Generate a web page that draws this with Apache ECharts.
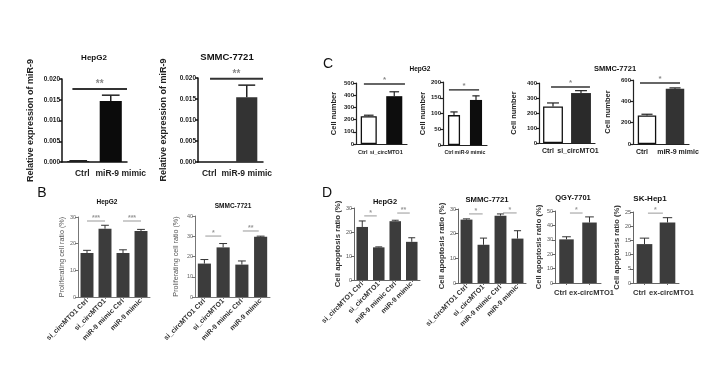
<!DOCTYPE html>
<html><head><meta charset="utf-8">
<script src="https://cdn.jsdelivr.net/npm/echarts@6/dist/echarts.min.js"></script>
<style>html,body{margin:0;padding:0;background:#fff}#c{width:725px;height:382px}</style>
</head><body><div id="c"></div>
<script>
// ---------------- data ----------------
const catsA   = ['Ctrl', 'miR-9 mimic'];
const catsSi  = ['Ctrl', 'si_circMTO1'];
const catsMim = ['Ctrl', 'miR-9 mimic'];
const catsBD  = ['si_circMTO1 Ctrl', 'si_circMTO1', 'miR-9 mimic Ctrl', 'miR-9 mimic'];
const catsEx  = ['Ctrl', 'ex-circMTO1'];

const ticksA  = [0, 0.005, 0.010, 0.015, 0.020];
const ticksC1 = [0, 100, 200, 300, 400, 500];
const ticksC2 = [0, 50, 100, 150, 200];
const ticksC3 = [0, 100, 200, 300, 400];
const ticksC4 = [0, 200, 400, 600];
const ticksB1 = [0, 10, 20, 30];
const ticksB2 = [0, 10, 20, 30, 40];
const ticksD1 = [0, 10, 20, 30];
const ticksD2 = [0, 10, 20, 30];
const ticksD3 = [0, 10, 20, 30, 40, 50];
const ticksD4 = [0, 5, 10, 15, 20, 25];

const a1Mean = [0.0002, 0.0147], a1Err = [0.0001, 0.0014];
const a2Mean = [0, 0.0154],      a2Err = [0, 0.0029];
const c1Mean = [228, 392], c1Err = [8, 36];
const c2Mean = [95, 143],  c2Err = [10, 13];
const c3Mean = [244, 333], c3Err = [23, 16];
const c4Mean = [267, 517], c4Err = [12, 9];
const b1Mean = [16.5, 25.6, 16.5, 24.75], b1Err = [1.0, 1.3, 1.2, 0.6];
const b2Mean = [16.5, 24.5, 16.0, 29.75], b2Err = [2.0, 1.9, 1.8, 0.3];
const d1Mean = [22.1, 13.6, 24.5, 15.9],  d1Err = [2.5, 0.2, 0.4, 1.7];
const d2Mean = [25.7, 15.5, 27.3, 18.0],  d2Err = [0.3, 2.7, 0.7, 3.2];
const d3Mean = [30.3, 42.0], d3Err = [1.8, 3.9];
const d4Mean = [13.7, 21.3], d4Err = [2.1, 1.7];

// significance brackets: category pairs, level, marks
const a1Sig = [[0, 1]], a1SigY = [0.0176], a1SigTxt = ['**'];
const a2Sig = [[0, 1]], a2SigY = [0.0198], a2SigTxt = ['**'];
const c1Sig = [[0, 1]], c1SigY = [492], c1SigTxt = ['*'];
const c2Sig = [[0, 1]], c2SigY = [175], c2SigTxt = ['*'];
const c3Sig = [[0, 1]], c3SigY = [373], c3SigTxt = ['*'];
const c4Sig = [[0, 1]], c4SigY = [572], c4SigTxt = ['*'];
const b1Sig = [[0, 1], [2, 3]], b1SigY = [28.5, 28.5], b1SigTxt = ['***', '***'];
const b2Sig = [[0, 1], [2, 3]], b2SigY = [30.1, 32.6], b2SigTxt = ['*', '**'];
const d1Sig = [[0, 1], [2, 3]], d1SigY = [26.7, 27.9], d1SigTxt = ['*', '**'];
const d2Sig = [[0, 1], [2, 3]], d2SigY = [28.0, 28.4], d2SigTxt = ['*', '*'];
const d3Sig = [[0, 1]], d3SigY = [48.6], d3SigTxt = ['*'];
const d4Sig = [[0, 1]], d4SigY = [24.6], d4SigTxt = ['*'];

// ---------------- styles / layout ----------------
const FONT = "'Liberation Sans', Arial, sans-serif";
const styles = {
  A: {axis:'#111', axisW:1.5, tickFont:6.5, tickW:'bold', tickColor:'#222', xFont:8.5, xW:'bold', xColor:'#222', xRot:0, xMargin:7,
      nameFont:9, nameW:'bold', nameColor:'#222', sigColor:'#333', sigW:2, starColor:'#888', starFont:10, starGap:5, capFrac:0.8, errW:1.5, errColor:'#222', xTick:false},
  C: {axis:'#222', axisW:1.2, tickFont:6, tickW:'bold', tickColor:'#222', xFont:6.2, xW:'bold', xColor:'#222', xRot:0, xMargin:5,
      nameFont:7.5, nameW:'bold', nameColor:'#222', sigColor:'#333', sigW:1.4, starColor:'#888', starFont:8, starGap:4, capFrac:0.6, errW:1.2, errColor:'#222', xTick:false},
  B: {axis:'#777', axisW:1, tickFont:5.5, tickW:'normal', tickColor:'#666', xFont:7, xW:'bold', xColor:'#333', xRot:45, xMargin:3,
      nameFont:7.2, nameW:'normal', nameColor:'#555', sigColor:'#999', sigW:1, starColor:'#999', starFont:7, starGap:3, capFrac:0.6, errW:1, errColor:'#333', xTick:true},
  D: {axis:'#666', axisW:1, tickFont:5.5, tickW:'normal', tickColor:'#555', xFont:7, xW:'bold', xColor:'#333', xRot:45, xMargin:3,
      nameFont:7.8, nameW:'bold', nameColor:'#333', sigColor:'#999', sigW:1, starColor:'#999', starFont:7, starGap:3, capFrac:0.6, errW:1, errColor:'#333', xTick:true},
  E: {axis:'#666', axisW:1, tickFont:5.5, tickW:'normal', tickColor:'#555', xFont:7.5, xW:'bold', xColor:'#333', xRot:0, xMargin:6,
      nameFont:7.6, nameW:'bold', nameColor:'#333', sigColor:'#999', sigW:1, starColor:'#999', starFont:7, starGap:3, capFrac:0.6, errW:1, errColor:'#333', xTick:true}
};
const DK = '#3c3c3c';
const panels = [
  {st:'A', cats:catsA,   mean:a1Mean, err:a1Err, ticks:ticksA,  fmt:3, sig:a1Sig, sigY:a1SigY, sigTxt:a1SigTxt, name:'Relative expression of miR-9', grid:[62,79,65,83], barW:68, fill:['#111','#0b0b0b'], gap:27, ext:[0.18,0.5], lab:[4,10]},
  {st:'A', cats:catsA,   mean:a2Mean, err:a2Err, ticks:ticksA,  fmt:3, sig:a2Sig, sigY:a2SigY, sigTxt:a2SigTxt, name:'Relative expression of miR-9', grid:[198,78,65,84], barW:65, fill:['#333','#333'], gap:30, ext:[0.13,0.5], lab:[-5,0]},
  {st:'C', cats:catsSi,  mean:c1Mean, err:c1Err, ticks:ticksC1, fmt:0, sig:c1Sig, sigY:c1SigY, sigTxt:c1SigTxt, name:'Cell number', grid:[356,83,51,61], barW:63, fill:['#fff','#0d0d0d'], gap:18, ext:[0.19,0.42], lab:[-6,-8], xFont:5.6},
  {st:'C', cats:catsMim, mean:c2Mean, err:c2Err, ticks:ticksC2, fmt:0, sig:c2Sig, sigY:c2SigY, sigTxt:c2SigTxt, name:'Cell number', grid:[443,82,44,63], barW:55, fill:['#fff','#0d0d0d'], gap:16, ext:[0.23,0.14], lab:[-5,-6], xFont:5.2},
  {st:'C', cats:catsSi,  mean:c3Mean, err:c3Err, ticks:ticksC3, fmt:0, sig:c3Sig, sigY:c3SigY, sigTxt:c3SigTxt, name:'Cell number', grid:[539,83,56,60], barW:71, fill:['#fff','#2a2a2a'], gap:21, ext:[0.07,0.32], lab:[-5,-3], xFont:7},
  {st:'C', cats:catsMim, mean:c4Mean, err:c4Err, ticks:ticksC4, fmt:0, sig:c4Sig, sigY:c4SigY, sigTxt:c4SigTxt, name:'Cell number', grid:[633,80,56,64], barW:66, fill:['#fff','#333'], gap:21, ext:[0.25,0.18], lab:[-5,3], xFont:7},
  {st:'B', cats:catsBD,  mean:b1Mean, err:b1Err, ticks:ticksB1, fmt:0, sig:b1Sig, sigY:b1SigY, sigTxt:b1SigTxt, name:'Proliferating cell ratio (%)', grid:[78,217,72,80], barW:72, fill:[DK,DK,DK,DK], gap:12, ext:[0,0]},
  {st:'B', cats:catsBD,  mean:b2Mean, err:b2Err, ticks:ticksB2, fmt:0, sig:b2Sig, sigY:b2SigY, sigTxt:b2SigTxt, name:'Proliferating cell ratio (%)', grid:[195,216,75,81], barW:70, fill:[DK,DK,DK,DK], gap:15, ext:[-0.05,-0.1]},
  {st:'D', cats:catsBD,  mean:d1Mean, err:d1Err, ticks:ticksD1, fmt:0, sig:d1Sig, sigY:d1SigY, sigTxt:d1SigTxt, name:'Cell apoptosis ratio (%)', grid:[354,208,66,72], barW:70, fill:[DK,DK,DK,DK], gap:11, ext:[-0.12,-0.12]},
  {st:'D', cats:catsBD,  mean:d2Mean, err:d2Err, ticks:ticksD2, fmt:0, sig:d2Sig, sigY:d2SigY, sigTxt:d2SigTxt, name:'Cell apoptosis ratio (%)', grid:[458,209,68,74], barW:70, fill:[DK,DK,DK,DK], gap:10, ext:[-0.15,-0.05]},
  {st:'E', cats:catsEx,  mean:d3Mean, err:d3Err, ticks:ticksD3, fmt:0, sig:d3Sig, sigY:d3SigY, sigTxt:d3SigTxt, name:'Cell apoptosis ratio (%)', grid:[555,211,46,72], barW:63, fill:[DK,DK], gap:7, ext:[-0.15,-0.3], lab:[-6,2]},
  {st:'E', cats:catsEx,  mean:d4Mean, err:d4Err, ticks:ticksD4, fmt:0, sig:d4Sig, sigY:d4SigY, sigTxt:d4SigTxt, name:'Cell apoptosis ratio (%)', grid:[633,212,46,71], barW:68, fill:[DK,DK], gap:9, ext:[-0.15,-0.2], lab:[-5,4]}
];

const texts = [
  {t:'HepG2', x:94, y:58, s:8, w:'bold'},
  {t:'SMMC-7721', x:227, y:57, s:9.5, w:'bold'},
  {t:'C', x:328, y:64, s:14, w:'normal'},
  {t:'HepG2', x:420, y:69, s:6.5, w:'bold'},
  {t:'SMMC-7721', x:615, y:69, s:7.5, w:'bold'},
  {t:'B', x:42, y:193, s:14, w:'normal'},
  {t:'HepG2', x:107, y:202, s:6.5, w:'bold'},
  {t:'SMMC-7721', x:233, y:206, s:6.5, w:'bold'},
  {t:'D', x:327, y:193, s:14, w:'normal'},
  {t:'HepG2', x:385, y:202, s:7.5, w:'bold'},
  {t:'SMMC-7721', x:487, y:200, s:7.7, w:'bold'},
  {t:'QGY-7701', x:573, y:198, s:7.5, w:'bold'},
  {t:'SK-Hep1', x:650, y:199, s:8, w:'bold'}
];

function errRender(p, s) {
  return function (params, api) {
    const k = api.value(0), m = api.value(1), e = api.value(2);
    if (!(e > 0)) return null;
    const b = api.coord([k, m]), t = api.coord([k, m + e]);
    const band = api.size([1, 0])[0];
    const half = band * p.barW / 100 * s.capFrac / 2;
    const st = {stroke: s.errColor, lineWidth: s.errW};
    return {type:'group', children:[
      {type:'line', shape:{x1:b[0], y1:b[1], x2:t[0], y2:t[1]}, style:st},
      {type:'line', shape:{x1:t[0]-half, y1:t[1], x2:t[0]+half, y2:t[1]}, style:st}
    ]};
  };
}
function sigRender(p, s) {
  return function (params, api) {
    const a = api.coord([api.value(0), api.value(2)]);
    const b = api.coord([api.value(1), api.value(2)]);
    const band = api.size([1, 0])[0];
    const x1 = a[0] - p.ext[0] * band, x2 = b[0] + p.ext[1] * band;
    return {type:'group', children:[
      {type:'line', shape:{x1:x1, y1:a[1], x2:x2, y2:a[1]}, style:{stroke:s.sigColor, lineWidth:s.sigW}},
      {type:'text', x:(x1 + x2) / 2, y:a[1] - s.starGap,
       style:{text:p.sigTxt[params.dataIndex], align:'center', verticalAlign:'middle',
              fill:s.starColor, fontSize:s.starFont, fontFamily:FONT, fontWeight:'bold'}}
    ]};
  };
}

const option = {animation:false, backgroundColor:'#fff', grid:[], xAxis:[], yAxis:[], series:[], graphic:[]};
panels.forEach(function (p, i) {
  const s = styles[p.st];
  const axLine = {color:s.axis, width:s.axisW};
  const catData = p.cats.map(function (c, k) {
    const d = p.lab ? p.lab[k] : 0;
    if (!d) return c;
    return {value:c, textStyle:{padding: d > 0 ? [0, 0, 0, 2 * d] : [0, -2 * d, 0, 0]}};
  });
  option.grid.push({left:p.grid[0], top:p.grid[1], width:p.grid[2], height:p.grid[3], containLabel:false, outerBoundsMode:'none'});
  option.xAxis.push({type:'category', gridIndex:i, data:catData,
    axisLine:{show:true, lineStyle:axLine},
    axisTick:{show:s.xTick, alignWithLabel:true, length:2, lineStyle:axLine},
    axisLabel:{fontSize:p.xFont || s.xFont, fontWeight:s.xW, color:s.xColor, rotate:s.xRot, margin:s.xMargin, interval:0, fontFamily:FONT, hideOverlap:false}});
  option.yAxis.push({type:'value', gridIndex:i, min:p.ticks[0], max:p.ticks[p.ticks.length - 1], interval:p.ticks[1] - p.ticks[0],
    splitLine:{show:false},
    axisLine:{show:true, lineStyle:axLine},
    axisTick:{show:true, length:3, lineStyle:axLine},
    axisLabel:{fontSize:s.tickFont, fontWeight:s.tickW, color:s.tickColor, margin:2, fontFamily:FONT,
      formatter:function (v) { return p.fmt ? v.toFixed(p.fmt) : String(v); }},
    name:p.name, nameLocation:'middle', nameGap:p.gap, nameRotate:90,
    nameTextStyle:{fontSize:s.nameFont, fontWeight:s.nameW, color:s.nameColor, fontFamily:FONT}});
  option.series.push({type:'bar', xAxisIndex:i, yAxisIndex:i, barWidth:p.barW + '%', silent:true,
    data:p.mean.map(function (v, k) {
      const white = p.fill[k] === '#fff';
      return {value:v, itemStyle:{color:p.fill[k], borderColor:white ? '#111' : p.fill[k], borderWidth:white ? 1.3 : 0}};
    })});
  option.series.push({type:'custom', xAxisIndex:i, yAxisIndex:i, silent:true, clip:false, z:3,
    encode:{x:0, y:1},
    data:p.mean.map(function (v, k) { return [k, v, p.err[k]]; }), renderItem:errRender(p, s)});
  option.series.push({type:'custom', xAxisIndex:i, yAxisIndex:i, silent:true, clip:false, z:4,
    encode:{x:[0, 1], y:2},
    data:p.sig.map(function (pr, k) { return [pr[0], pr[1], p.sigY[k]]; }), renderItem:sigRender(p, s)});
});
texts.forEach(function (d) {
  option.graphic.push({type:'text', x:d.x, y:d.y, silent:true,
    style:{text:d.t, align:'center', verticalAlign:'middle', fontSize:d.s, fontWeight:d.w, fill:'#111', fontFamily:FONT}});
});

const chart = echarts.init(document.getElementById('c'));
chart.setOption(option);
</script>
</body></html>
